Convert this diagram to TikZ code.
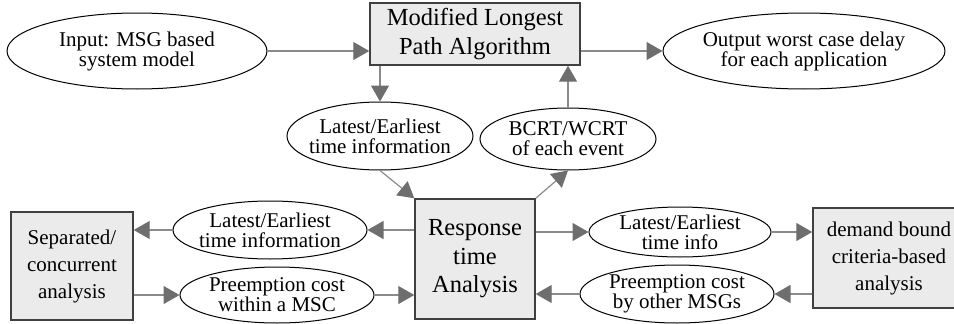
\documentclass[tikz,border=0pt]{standalone}
\usepackage{fontspec}
\setmainfont{Liberation Serif}
\usetikzlibrary{arrows.meta,shapes.geometric}
\definecolor{boxfill}{HTML}{EBEBEB}
\definecolor{boxline}{HTML}{404040}
\definecolor{arrline}{HTML}{8A8A8A}
\definecolor{arrtip}{HTML}{6E6E6E}
\tikzset{
  ell/.style={draw=black, line width=1pt, ellipse, inner sep=0pt, fill=white},
  gbox/.style={draw=boxline, line width=1.4pt, fill=boxfill, inner sep=0pt},
  txt/.style={inner sep=0pt, align=center, font=\fontsize{21}{20}\selectfont},
  bigtxt/.style={inner sep=0pt, align=center, font=\fontsize{24.5}{28.5}\selectfont},
  arr/.style={draw=arrline, line width=1.2pt, -{Triangle[length=16pt,width=18pt,color=arrtip]}},
}
\begin{document}
\begin{tikzpicture}[x=1pt,y=-1pt]
\useasboundingbox (0,0) rectangle (954,324);
\clip (0,0) rectangle (954,324);
% boxes
\node[gbox, minimum width=210pt, minimum height=62pt] (mlpa) at (475,34) {};
\node[bigtxt] (mlpat) at (mlpa) {Modified Longest\\Path Algorithm};
\node[gbox, minimum width=120pt, minimum height=120pt] (rt) at (475,259) {};
\node[bigtxt] (rtt) at (rt) {Response\\time\\Analysis};
\node[gbox, minimum width=122pt, minimum height=108pt] (sep) at (72,266) {};
\node[txt, font=\fontsize{21}{27}\selectfont] (sept) at (sep) {Separated/\\concurrent\\analysis};
\node[gbox, minimum width=152pt, minimum height=100pt] (dem) at (889,258) {};
\node[txt, font=\fontsize{21}{27}\selectfont] (demt) at (dem) {demand bound\\criteria-based\\analysis};
% ellipses
\node[ell, minimum width=260pt, minimum height=76pt] (inp) at (137,51) {};
\node[txt] (inpt) at (inp) {Input: MSG based\\system model};
\node[ell, minimum width=282pt, minimum height=76pt] (out) at (804,51) {};
\node[txt] (outt) at (out) {Output worst case delay\\for each application};
\node[ell, minimum width=186pt, minimum height=68pt] (lt) at (380,136) {};
\node[txt] (ltt) at (lt) {Latest/Earliest\\time information};
\node[ell, minimum width=176pt, minimum height=62pt] (bc) at (568,139) {};
\node[txt] (bct) at (bc) {BCRT/WCRT\\of each event};
\node[ell, minimum width=194pt, minimum height=58pt] (ll) at (270,230) {};
\node[txt] (llt) at (ll) {Latest/Earliest\\time information};
\node[ell, minimum width=194pt, minimum height=56pt] (lp) at (277,295) {};
\node[txt] (lpt) at (lp) {Preemption cost\\within a MSC};
\node[ell, minimum width=182pt, minimum height=50pt] (rl) at (680,232) {};
\node[txt] (rlt) at (rl) {Latest/Earliest\\time info};
\node[ell, minimum width=194pt, minimum height=58pt] (rp) at (677,294) {};
\node[txt] (rpt) at (rp) {Preemption cost\\by other MSGs};
% arrows
\draw[arr] (inp.east) -- (inp.east -| mlpa.west);
\draw[arr] (mlpa.east |- out.west) -- (out.west);
\draw[arr] (lt.north |- mlpa.south) -- (lt.north);
\draw[arr] (bc.north) -- (bc.north |- mlpa.south);
\draw[arr] (lt.south) -- (rt.north west);
\draw[arr] (rt.north east) -- (bc.south);
\draw[arr] (rt.west |- ll.east) -- (ll.east);
\draw[arr] (ll.west) -- (ll.west -| sep.east);
\draw[arr] (sep.east |- lp.west) -- (lp.west);
\draw[arr] (lp.east) -- (lp.east -| rt.west);
\draw[arr] (rt.east |- rl.west) -- (rl.west);
\draw[arr] (rl.east) -- (rl.east -| dem.west);
\draw[arr] (dem.west |- rp.east) -- (rp.east);
\draw[arr] (rp.west) -- (rp.west -| rt.east);
\end{tikzpicture}
\end{document}
